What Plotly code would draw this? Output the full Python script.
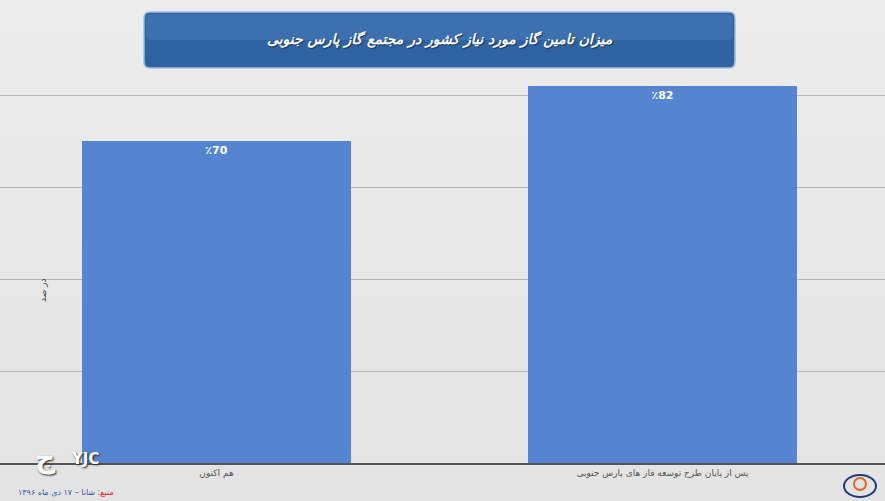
import plotly.graph_objects as go

categories = ["هم اکنون", "پس از پایان طرح توسعه فاز های پارس جنوبی"]
values = [70, 82]
value_labels = ["٪70", "٪82"]
title_text = "میزان تامین گاز مورد نیاز کشور در مجتمع گاز پارس جنوبی"
y_title = "در صد"
source_prefix = "منبع:"
source_text = " شانا – ۱۷ دی ماه ۱۳۹۶"

W, H = 885, 501
T, B = 3, 38


def px(x):
    return x / W


def py(y):
    return (H - B - y) / (H - B - T)


fig = go.Figure()
fig.add_trace(go.Bar(
    x=categories, y=values, width=0.603,
    marker=dict(color="#5585d1", line=dict(width=0)),
    text=[f"<b>{t}</b>" for t in value_labels], textposition="inside", insidetextanchor="end",
    textfont=dict(color="white", size=11, family="DejaVu Sans"),
    textangle=0, cliponaxis=False, hoverinfo="skip",
))

fig.update_layout(
    width=W, height=H,
    margin=dict(l=0, r=0, t=T, b=B),
    paper_bgcolor="#e6e6e6", plot_bgcolor="rgba(0,0,0,0)",
    showlegend=False,
    xaxis=dict(range=[-0.4854, 1.499], showgrid=False, showline=True,
               linecolor="#555555", linewidth=1.5, ticks="",
               tickfont=dict(size=9, color="#555555", family="DejaVu Sans")),
    yaxis=dict(range=[0, 100], dtick=20, showgrid=True, gridcolor="#b4b4b4",
               gridwidth=1, showticklabels=False, zeroline=False, ticks=""),
    bargap=0,
)

# background gradient (lighter top)
for i in range(10):
    fig.add_shape(type="rect", xref="paper", yref="paper", layer="below",
                  x0=-0.01, x1=1.01, y0=-0.1 + i * 0.115, y1=-0.1 + (i + 1) * 0.115,
                  fillcolor=f"rgb({227+i},{227+i},{227+i})", line=dict(width=0))


def rounded(x0, y0, x1, y1, r):
    return (f"M {px(x0+r)},{py(y0)} L {px(x1-r)},{py(y0)} Q {px(x1)},{py(y0)} {px(x1)},{py(y0+r)} "
            f"L {px(x1)},{py(y1-r)} Q {px(x1)},{py(y1)} {px(x1-r)},{py(y1)} "
            f"L {px(x0+r)},{py(y1)} Q {px(x0)},{py(y1)} {px(x0)},{py(y1-r)} "
            f"L {px(x0)},{py(y0+r)} Q {px(x0)},{py(y0)} {px(x0+r)},{py(y0)} Z")


fig.add_shape(type="path", xref="paper", yref="paper", path=rounded(144, 12, 735, 68, 6),
              fillcolor="#2f63a2", line=dict(color="#9dbde3", width=1.5))
fig.add_shape(type="path", xref="paper", yref="paper", path=rounded(146, 14, 733, 40, 5),
              fillcolor="rgba(100,150,210,0.25)", line=dict(width=0))

fig.add_annotation(xref="paper", yref="paper", x=px(440), y=py(40), xanchor="center", yanchor="middle",
                   text=f"<b><i>{title_text}</i></b>", showarrow=False,
                   font=dict(size=14, color="white", family="DejaVu Sans",
                             shadow="1px 1px 1px #1a3560"))

fig.add_annotation(xref="paper", yref="paper", x=px(43), y=py(290), xanchor="center", yanchor="middle",
                   text=y_title, textangle=-90, showarrow=False,
                   font=dict(size=9, color="#444444", family="DejaVu Sans"))

# YJC logo (white text with dark shadow)
fig.add_annotation(xref="paper", yref="paper", x=px(85), y=py(459),
                   xanchor="center", yanchor="middle",
                   text="<b>YJC</b>", showarrow=False,
                   font=dict(size=15, color="white", family="DejaVu Sans",
                             shadow="1px 1px 2px #222222"))
fig.add_annotation(xref="paper", yref="paper", x=px(45), y=py(458),
                   xanchor="center", yanchor="middle",
                   text="<b>ج</b>", showarrow=False,
                   font=dict(size=28, color="white", family="DejaVu Sans",
                             shadow="1px 1px 2px #222222"))

# source
fig.add_annotation(xref="paper", yref="paper", x=px(66), y=py(492), xanchor="center", yanchor="middle",
                   text=f"<span style='color:#d22'>{source_prefix}</span><span style='color:#2a58a8'>{source_text}</span>",
                   showarrow=False, font=dict(size=8, family="DejaVu Sans"))

# bottom-right logo (approx)
fig.add_shape(type="circle", xref="paper", yref="paper",
              x0=px(844), x1=px(876), y0=py(497), y1=py(475),
              line=dict(color="#1d3a7a", width=2), fillcolor="rgba(0,0,0,0)")
fig.add_shape(type="circle", xref="paper", yref="paper",
              x0=px(854), x1=px(866), y0=py(490), y1=py(478),
              line=dict(color="#e8642a", width=2), fillcolor="rgba(0,0,0,0)")

fig.write_html("out.html", config={"displayModeBar": False},
               post_script="document.body.style.margin='0';document.body.style.overflow='hidden';")
